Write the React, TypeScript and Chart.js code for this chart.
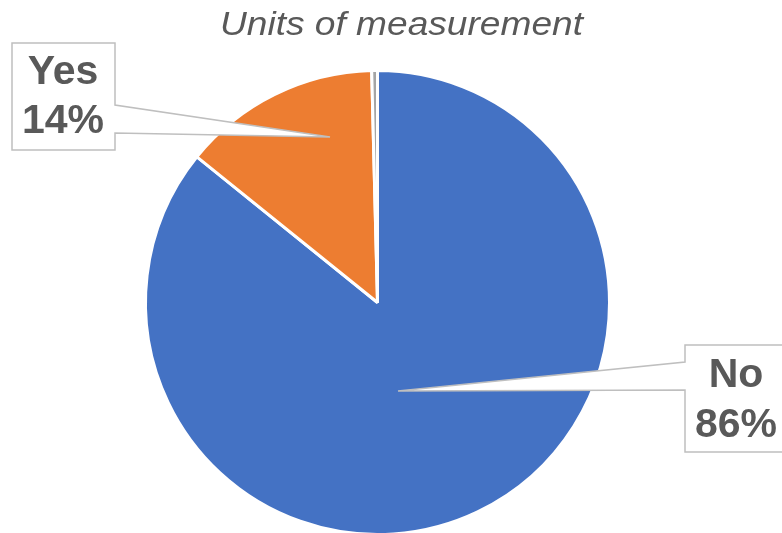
import React, { useEffect, useRef } from "react";
import { Chart, registerables } from "chart.js";

Chart.register(...registerables);

const categories = ["No", "Yes", "Other"];
const values = [85.8, 13.8, 0.4];
const labelTexts = ["86%", "14%", ""];
const colors = ["#4472C4", "#ED7D31", "#A5A5A5"];
const titleText = "Units of measurement";

const TEXT_COLOR = "#595959";
const LINE_COLOR = "#BFBFBF";

type Callout = {
  box: [number, number, number, number];
  side: "left" | "right";
  p1: number;
  p2: number;
  tip: [number, number];
  cx: number;
  y1: number;
  y2: number;
};

const callouts: Record<string, Callout> = {
  Yes: { box: [12, 43, 115, 150], side: "right", p1: 105, p2: 133, tip: [330, 137], cx: 63, y1: 73, y2: 122 },
  No: { box: [685, 345, 800, 452], side: "left", p1: 362, p2: 390, tip: [398, 391], cx: 736, y1: 376, y2: 426 },
};

const overlayPlugin = {
  id: "overlay",
  afterDraw(chart: any) {
    const ctx = chart.ctx as CanvasRenderingContext2D;
    ctx.save();
    // title
    ctx.fillStyle = TEXT_COLOR;
    ctx.font = "italic 33px 'Liberation Sans', Arial, sans-serif";
    ctx.textAlign = "center";
    ctx.textBaseline = "alphabetic";
    const w = ctx.measureText(titleText).width;
    const sx = 363 / w;
    ctx.save();
    ctx.translate(401.5, 35);
    ctx.scale(sx, 1);
    ctx.fillText(titleText, 0, 0);
    ctx.restore();

    ctx.textBaseline = "middle";
    categories.forEach((cat, i) => {
      const c = callouts[cat];
      if (!c) return;
      const [l, t, r, b] = c.box;
      ctx.beginPath();
      if (c.side === "right") {
        ctx.moveTo(l, t);
        ctx.lineTo(r, t);
        ctx.lineTo(r, c.p1);
        ctx.lineTo(c.tip[0], c.tip[1]);
        ctx.lineTo(r, c.p2);
        ctx.lineTo(r, b);
        ctx.lineTo(l, b);
      } else {
        ctx.moveTo(r, t);
        ctx.lineTo(l, t);
        ctx.lineTo(l, c.p1);
        ctx.lineTo(c.tip[0], c.tip[1]);
        ctx.lineTo(l, c.p2);
        ctx.lineTo(l, b);
        ctx.lineTo(r, b);
      }
      ctx.closePath();
      ctx.fillStyle = "#FFFFFF";
      ctx.fill();
      ctx.strokeStyle = LINE_COLOR;
      ctx.lineWidth = 1.5;
      ctx.stroke();
      ctx.fillStyle = TEXT_COLOR;
      ctx.font = "bold 41px 'Liberation Sans', Arial, sans-serif";
      ctx.fillText(cat, c.cx, c.y1);
      ctx.fillText(labelTexts[i], c.cx, c.y2);
    });
    ctx.restore();
  },
};

export default function App() {
  const ref = useRef<HTMLCanvasElement | null>(null);
  useEffect(() => {
    document.body.style.margin = "0";
    document.body.style.overflow = "hidden";
    if (!ref.current) return;
    const chart = new Chart(ref.current, {
      type: "pie",
      data: {
        labels: categories,
        datasets: [
          {
            data: values,
            backgroundColor: colors,
            borderColor: "#FFFFFF",
            borderWidth: 3,
          },
        ],
      },
      options: {
        responsive: false,
        animation: false,
        layout: { padding: { left: 144, right: 171, top: 69, bottom: 4 } },
        plugins: {
          legend: { display: false },
          tooltip: { enabled: false },
          title: { display: false },
        },
      },
      plugins: [overlayPlugin],
    });
    return () => chart.destroy();
  }, []);
  return (
    <div style={{ width: 782, height: 533, overflow: "hidden", background: "#fff" }}>
      <canvas ref={ref} width={782} height={540} style={{ display: "block", width: 782, height: 540 }} />
    </div>
  );
}
